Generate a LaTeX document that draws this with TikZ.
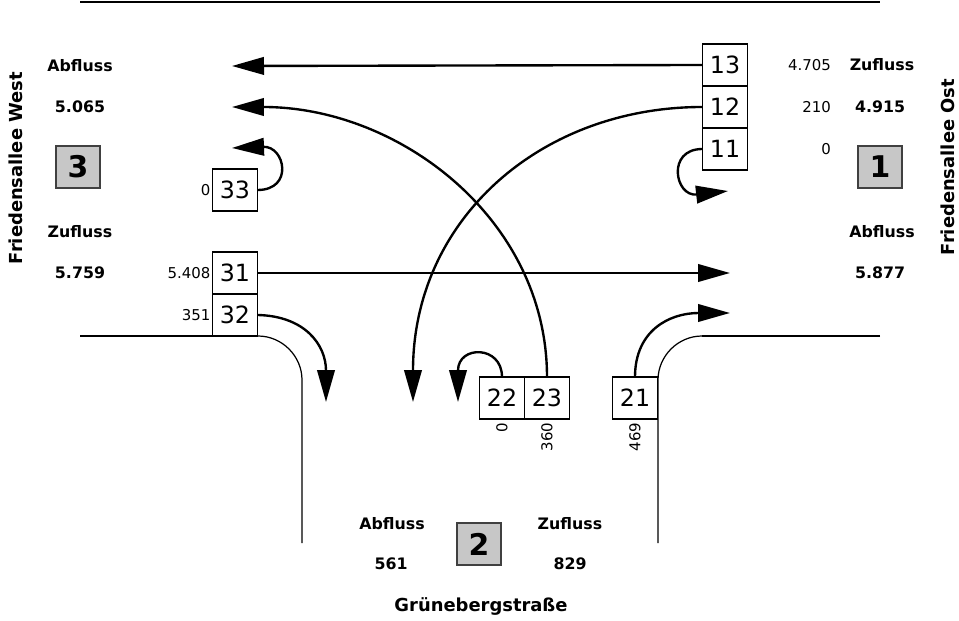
\documentclass[tikz,border=0pt]{standalone}
\usepackage{fontspec}
\setmainfont{DejaVu Sans}
\usepackage{tikz}
\usetikzlibrary{positioning,arrows.meta}
\tikzstyle{lane} = [rectangle, draw, fill=white, line width=1.1pt, outer sep=0pt, minimum width=0.9cm, minimum height=0.84cm, inner sep=0pt, font=\fontsize{13.5}{16}\selectfont]
\tikzstyle{zone} = [rectangle, draw=black!75, fill=black!22, line width=0.8pt, minimum width=0.88cm, minimum height=0.84cm, inner sep=0pt, font=\fontsize{17}{20}\selectfont\bfseries]
\tikzstyle{flow} = [font=\fontsize{9}{11}\selectfont\bfseries]
\tikzstyle{count} = [font=\fontsize{8.5}{10}\selectfont, inner sep=1pt]
\tikzstyle{street} = [font=\fontsize{10.2}{12}\selectfont\bfseries]
\tikzstyle{road} = [line width=1pt]
\tikzstyle{curb} = [line width=0.7pt]
\tikzstyle{connector} = [line width=1.35pt, -{Triangle[length=0.64cm, width=0.35cm]}]

\begin{document}
\begin{tikzpicture}[x=0.02cm, y=-0.02cm]
        \useasboundingbox (0,0) rectangle (959,621);
        \draw [road] (80,2) -- (880,2);
        \draw [road] (80,336) -- (258,336);
        \draw [curb] (258,336) .. controls (282,336) and (302,356) .. (302,380) -- (302,543);
        \draw [road] (880,336) -- (702,336);
        \draw [curb] (702,336) .. controls (678,336) and (658,356) .. (658,380) -- (658,543);

        \node (n13) [lane] at (725,65) {13};
        \node (n12) [lane, below=0pt of n13] {12};
        \node (n11) [lane, below=0pt of n12] {11};
        \node (n33) [lane] at (235,190) {33};
        \node (n31) [lane] at (235,273) {31};
        \node (n32) [lane, below=0pt of n31] {32};
        \node (n22) [lane] at (502,398) {22};
        \node (n23) [lane, right=0pt of n22] {23};
        \node (n21) [lane] at (635,398) {21};

        \node (c13) [count, anchor=east] at (833,65) {4.705};
        \node (c12) [count, anchor=east] at (833,107) {210};
        \node (c11) [count, anchor=east] at (833,149) {0};
        \node (c33) [count, left=0pt of n33] {0};
        \node (c31) [count, left=0pt of n31] {5.408};
        \node (c32) [count, left=0pt of n32] {351};
        \node (c22) [count, rotate=90, anchor=east] at ([yshift=-1pt]n22.south) {0};
        \node (c23) [count, rotate=90, anchor=east] at ([yshift=-1pt]n23.south) {360};
        \node (c21) [count, rotate=90, anchor=east] at ([yshift=-1pt]n21.south) {469};

        \node (zone3) [zone] at (78,167) {3};
        \node (zone1) [zone] at (880,167) {1};
        \node (zone2) [zone] at (479,544) {2};

        \node (outw) [flow] at (80,66) {Abfluss};
        \node (outwval) [flow] at (80,107) {5.065};
        \node (inw) [flow] at (80,232) {Zufluss};
        \node (inwval) [flow] at (80,273) {5.759};
        \node (ino) [flow] at (882,65) {Zufluss};
        \node (inoval) [flow] at (880,107) {4.915};
        \node (outo) [flow] at (882,232) {Abfluss};
        \node (outoval) [flow] at (880,273) {5.877};
        \node (outs) [flow] at (392,524) {Abfluss};
        \node (outsval) [flow] at (391,564) {561};
        \node (ins) [flow] at (570,524) {Zufluss};
        \node (insval) [flow] at (570,564) {829};

        \node (west) [street, rotate=90] at (16,168) {Friedensallee West};
        \node (ost) [street, rotate=90] at (948,167) {Friedensallee Ost};
        \node (sued) [street] at (481,606) {Grünebergstraße};

        \coordinate (t13) at (232,66);
        \coordinate (t12) at (413,402);
        \coordinate (t11) at (728,191);
        \coordinate (t33) at (232,148);
        \coordinate (t31) at (730,273);
        \coordinate (t32) at (326,402);
        \coordinate (t22) at (458,402);
        \coordinate (t23) at (232,107);
        \coordinate (t21) at (730,313);

        \draw [connector] (n13.west) -- (t13);
        \draw [connector] (n12.west) .. controls (540,107) and (413,220) .. (t12);
        \draw [connector] (n11.west) .. controls (666,149) and (675,197) .. (t11);
        \draw [connector] (n33.east) .. controls (294,190) and (285,146) .. (t33);
        \draw [connector] (n31.east) -- (t31);
        \draw [connector] (n32.east) .. controls (305,316) and (326,345) .. (t32);
        \draw [connector] (n22.north) .. controls (502,345) and (458,345) .. (t22);
        \draw [connector] (n23.north) .. controls (547,220) and (400,107) .. (t23);
        \draw [connector] (n21.north) .. controls (635,330) and (670,313) .. (t21);
\end{tikzpicture}
\end{document}
